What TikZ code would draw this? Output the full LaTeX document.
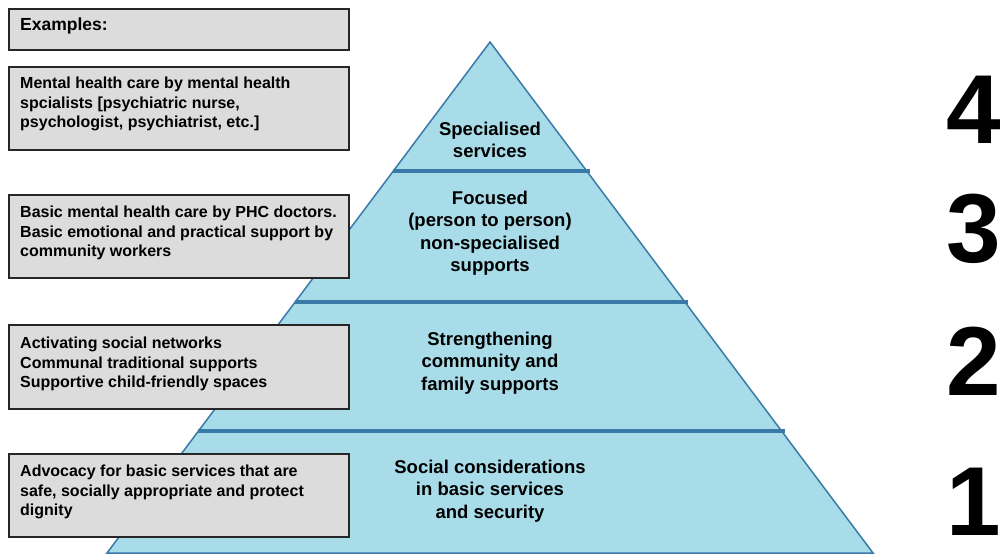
\documentclass[tikz,border=0pt]{standalone}
\usepackage{fontspec}
\setmainfont{Liberation Sans}
\definecolor{pyrfill}{HTML}{A8DCE8}
\definecolor{pyrline}{HTML}{3A7AA8}
\definecolor{boxfill}{HTML}{DCDCDC}
\tikzset{
  examplebox/.style={draw=black!85,line width=1.5pt,fill=boxfill,minimum width=340pt,anchor=north west,inner sep=0pt},
  boxtext/.style={anchor=north west,align=left,inner sep=0pt,font=\fontsize{16}{19.5}\selectfont\bfseries},
  leveltext/.style={align=center,inner sep=0pt,font=\fontsize{18.5}{22.5}\selectfont\bfseries},
  levelnum/.style={anchor=base east,inner sep=0pt,font=\fontsize{98}{98}\selectfont\bfseries}
}
\begin{document}
\begin{tikzpicture}[x=1pt,y=-1pt]
\useasboundingbox (0,0) rectangle (1000,555);
\clip (0,0) rectangle (1000,555);
\pgfmathsetmacro{\kx}{490}
\pgfmathsetmacro{\ktop}{42}
\pgfmathsetmacro{\kbot}{553}
\pgfmathsetmacro{\khalf}{383}
\pgfmathsetmacro{\kslope}{\khalf/(\kbot-\ktop)}
%pyramid
\draw[pyrline,fill=pyrfill,line width=1.5pt](\kx,\ktop)--(\kx+\khalf,\kbot)--(\kx-\khalf,\kbot)--cycle;
%level dividers
\foreach \ly in {171,302,431}{
  \pgfmathsetmacro{\kw}{\kslope*(\ly-\ktop)}
  \draw[pyrline,line width=4pt](\kx-\kw,\ly)--(\kx+\kw+3,\ly);
}
%level texts
\node[leveltext](lev4) at (\kx,140){Specialised\\services};
\node[leveltext](lev3) at (\kx,233){Focused\\(person to person)\\non-specialised\\supports};
\node[leveltext](lev2) at (\kx,363){Strengthening\\community and\\family supports};
\node[leveltext](lev1) at (\kx,491){Social considerations\\in basic services\\and security};
%example boxes
\node[examplebox,minimum height=41pt](ex0) at (8,8){};
\node[boxtext,font=\fontsize{17.5}{20}\selectfont\bfseries](ex0t) at (20,18){Examples:};
\node[examplebox,minimum height=83pt](ex4) at (8,66){};
\node[boxtext](ex4t) at (20,77){Mental health care by mental health\\spcialists [psychiatric nurse,\\psychologist, psychiatrist, etc.]};
\node[examplebox,minimum height=83pt](ex3) at (8,194){};
\node[boxtext](ex3t) at (20,206){Basic mental health care by PHC doctors.\\Basic emotional and practical support by\\community workers};
\node[examplebox,minimum height=84pt](ex2) at (8,324){};
\node[boxtext](ex2t) at (20,337){Activating social networks\\Communal traditional supports\\Supportive child-friendly spaces};
\node[examplebox,minimum height=83pt](ex1) at (8,453){};
\node[boxtext](ex1t) at (20,465){Advocacy for basic services that are\\safe, socially appropriate and protect\\dignity};
%level numbers
\node[levelnum](num4) at (1001,143){4};
\node[levelnum](num3) at (1001,262){3};
\node[levelnum](num2) at (1001,395){2};
\node[levelnum](num1) at (1001,535){1};
\end{tikzpicture}
\end{document}
